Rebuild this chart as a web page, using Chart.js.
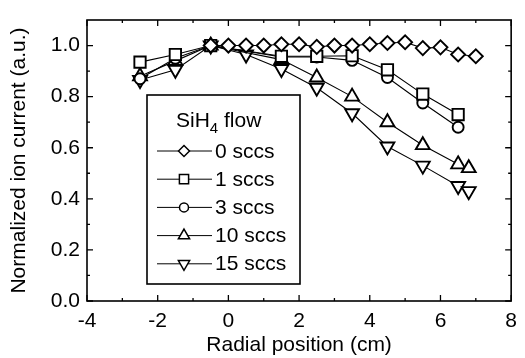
<!DOCTYPE html>
<html>
<head>
<meta charset="utf-8">
<script src="https://cdn.jsdelivr.net/npm/chart.js@4/dist/chart.umd.min.js"></script>
<style>
  html, body { margin: 0; padding: 0; background: #fff; }
  #wrap { width: 525px; height: 358px; }
</style>
</head>
<body>
<div id="wrap"><canvas id="chart"></canvas></div>
<script>
// radial position (cm) and normalized ion current for each SiH4 flow
const x0 = [-0.5, 0, 0.5, 1, 1.5, 2, 2.5, 3, 3.5, 4, 4.5, 5, 5.5, 6, 6.5, 7];
const y0 = [1.0, 1.0, 1.0, 1.0, 1.005, 1.005, 0.995, 1.0, 1.0, 1.005, 1.01, 1.013, 0.99, 0.993, 0.965, 0.958];

const x1 = [-2.5, -1.5, -0.5, 1.5, 2.5, 3.5, 4.5, 5.5, 6.5];
const y1 = [0.935, 0.965, 1.0, 0.958, 0.958, 0.96, 0.905, 0.81, 0.73];

const x3 = [-2.5, -1.5, -0.5, 1.5, 2.5, 3.5, 4.5, 5.5, 6.5];
const y3 = [0.87, 0.95, 1.0, 0.955, 0.955, 0.942, 0.875, 0.775, 0.68];

const x10 = [-2.5, -1.5, -0.5, 1.5, 2.5, 3.5, 4.5, 5.5, 6.5, 6.8];
const y10 = [0.88, 0.94, 1.0, 0.945, 0.875, 0.80, 0.70, 0.61, 0.535, 0.52];

const x15 = [-2.5, -1.5, -0.5, 0.5, 1.5, 2.5, 3.5, 4.5, 5.5, 6.5, 6.8];
const y15 = [0.865, 0.905, 1.0, 0.965, 0.908, 0.835, 0.735, 0.605, 0.53, 0.45, 0.43];

const seriesLabels = ["0 sccs", "1 sccs", "3 sccs", "10 sccs", "15 sccs"];

const xTicks = [-4, -2, 0, 2, 4, 6, 8];
const yTicks = [0, 0.2, 0.4, 0.6, 0.8, 1.0];

const FONT = "'Liberation Sans', Arial, Helvetica, sans-serif";

const pts = (xs, ys) => xs.map((x, i) => ({ x, y: ys[i] }));

function series(label, data, style, radius, rotation) {
  return {
    label,
    data,
    showLine: true,
    borderColor: "#000",
    borderWidth: 1.1,
    pointStyle: style,
    pointRadius: radius,
    pointRotation: rotation || 0,
    pointBackgroundColor: "#fff",
    pointBorderColor: "#000",
    pointBorderWidth: 1.9,
    pointHoverRadius: radius
  };
}

// box + inward ticks on all four sides
const framePlugin = {
  id: "frame",
  afterDatasetsDraw(chart) {
    const { ctx, chartArea: a, scales: { x, y } } = chart;
    ctx.save();
    ctx.strokeStyle = "#000";
    ctx.lineWidth = 1.6;
    ctx.strokeRect(a.left, a.top, a.right - a.left, a.bottom - a.top);
    ctx.lineWidth = 1.3;
    ctx.beginPath();
    for (let v = -4; v <= 8; v += 1) {
      const px = x.getPixelForValue(v);
      const len = v % 2 === 0 ? 6 : 3;
      ctx.moveTo(px, a.bottom); ctx.lineTo(px, a.bottom - len);
      ctx.moveTo(px, a.top); ctx.lineTo(px, a.top + len);
    }
    for (let k = 0; k <= 10; k++) {
      const py = y.getPixelForValue(k / 10);
      const len = k % 2 === 0 ? 6 : 3;
      ctx.moveTo(a.left, py); ctx.lineTo(a.left + len, py);
      ctx.moveTo(a.right, py); ctx.lineTo(a.right - len, py);
    }
    ctx.stroke();
    ctx.restore();
  }
};

// boxed legend with SiH4 title
const legendPlugin = {
  id: "boxLegend",
  afterDraw(chart) {
    const { ctx } = chart;
    const bx = 147, by = 95, bw = 153, bh = 189;
    ctx.save();
    ctx.fillStyle = "#fff";
    ctx.fillRect(bx, by, bw, bh);
    ctx.strokeStyle = "#000";
    ctx.lineWidth = 1.6;
    ctx.strokeRect(bx, by, bw, bh);

    ctx.fillStyle = "#000";
    ctx.textBaseline = "alphabetic";
    ctx.textAlign = "left";
    ctx.font = "21px " + FONT;
    let tx = 176;
    ctx.fillText("SiH", tx, 127);
    tx += ctx.measureText("SiH").width;
    ctx.font = "15px " + FONT;
    ctx.fillText("4", tx, 133);
    tx += ctx.measureText("4").width;
    ctx.font = "21px " + FONT;
    ctx.fillText(" flow", tx, 127);

    chart.data.datasets.forEach((ds, i) => {
      const base = 157.5 + i * 28.2;
      const cy = base - 6.5;
      ctx.strokeStyle = "#000";
      ctx.lineWidth = 1;
      ctx.beginPath();
      ctx.moveTo(157, cy); ctx.lineTo(212, cy);
      ctx.stroke();
      ctx.fillStyle = "#fff";
      ctx.lineWidth = 1.5;
      const r = Math.max(4.5, ds.pointRadius - 1.5);
      if (Chart.helpers && Chart.helpers.drawPoint) {
        Chart.helpers.drawPoint(ctx, {
          pointStyle: ds.pointStyle, rotation: ds.pointRotation,
          radius: r, borderWidth: 1.5
        }, 184, cy);
      }
      ctx.fillStyle = "#000";
      ctx.font = "21px " + FONT;
      ctx.fillText(ds.label, 215, base);
    });
    ctx.restore();
  }
};

new Chart(document.getElementById("chart"), {
  type: "scatter",
  data: {
    datasets: [
      series(seriesLabels[0], pts(x0, y0), "rectRot", 7),
      series(seriesLabels[1], pts(x1, y1), "rect", 8),
      series(seriesLabels[2], pts(x3, y3), "circle", 5.5),
      series(seriesLabels[3], pts(x10, y10), "triangle", 8),
      series(seriesLabels[4], pts(x15, y15), "triangle", 8, 180)
    ]
  },
  options: {
    responsive: true,
    maintainAspectRatio: false,
    animation: false,
    devicePixelRatio: 1,
    layout: { padding: { top: 20, right: 6, left: 0, bottom: 0 } },
    plugins: {
      legend: { display: false },
      tooltip: { enabled: false }
    },
    scales: {
      x: {
        type: "linear",
        min: -4,
        max: 8,
        afterBuildTicks: s => { s.ticks = xTicks.map(v => ({ value: v })); },
        afterFit: s => { s.height = 57; },
        grid: { display: false, drawTicks: false },
        border: { display: false },
        ticks: {
          color: "#000",
          padding: 8,
          font: { family: FONT, size: 21 },
          callback: v => String(v)
        },
        title: {
          display: true,
          text: "Radial position (cm)",
          color: "#000",
          font: { family: FONT, size: 21 },
          padding: { top: 0, bottom: 0 }
        }
      },
      y: {
        type: "linear",
        min: 0,
        max: 1.1,
        afterBuildTicks: s => { s.ticks = yTicks.map(v => ({ value: v })); },
        afterFit: s => { s.width = 87; },
        grid: { display: false, drawTicks: false },
        border: { display: false },
        ticks: {
          color: "#000",
          padding: 7,
          font: { family: FONT, size: 21 },
          callback: v => v.toFixed(1)
        },
        title: {
          display: true,
          text: "Normalized ion current (a.u.)",
          color: "#000",
          font: { family: FONT, size: 21 },
          padding: { top: 7, bottom: 0 }
        }
      }
    }
  },
  plugins: [framePlugin, legendPlugin]
});
</script>
</body>
</html>
